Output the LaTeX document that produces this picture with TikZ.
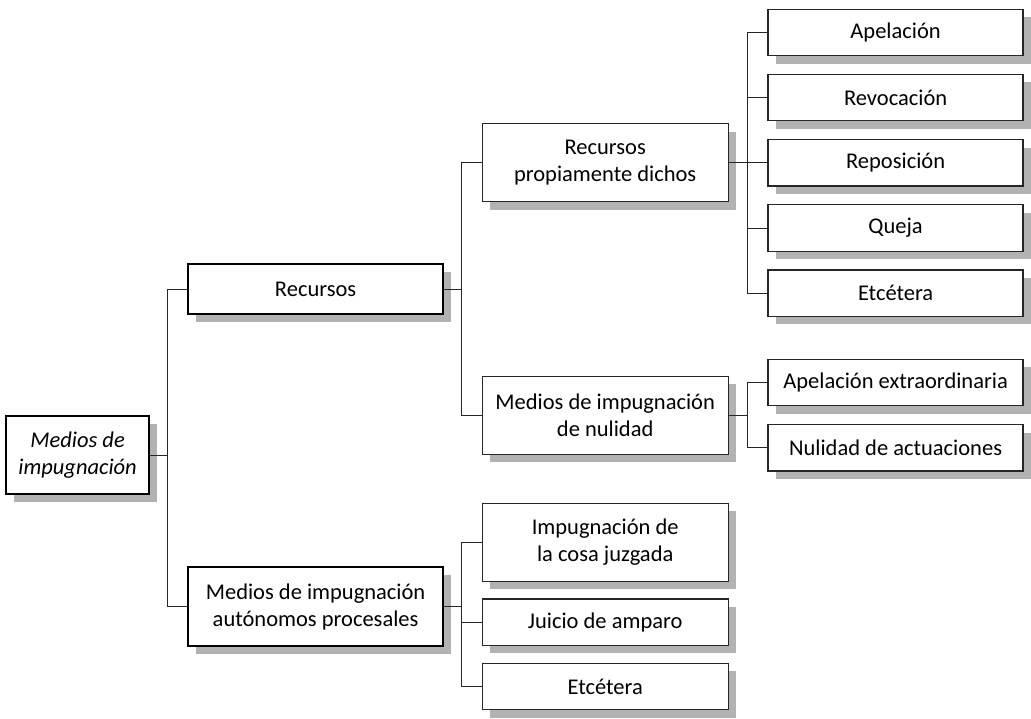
\documentclass[tikz,border=0pt]{standalone}
\usepackage{fontspec}
\setmainfont{Carlito}
\usetikzlibrary{trees,shadows}

\begin{document}
\begin{tikzpicture}[
        grow'=right,
        font=\fontsize{16}{19.2}\selectfont,
        minimum height=1.16cm,
        level 1/.style={level distance=5.95cm, sibling distance=7.94cm,
            minimum width=6.375cm, minimum height=1.25cm},
        level 2/.style={level distance=7.24cm, minimum width=6.15cm, minimum height=1.16cm},
        level 3/.style={level distance=7.26cm, sibling distance=1.63cm, minimum width=6.375cm},
        every node/.style={draw, rectangle, fill=white, line width=0.9pt, align=center, inner sep=0pt,
            drop shadow={shadow xshift=0.2cm, shadow yshift=-0.2cm, fill=black!30, opacity=1}},
        tall/.style={minimum height=1.95cm},
        edge from parent/.style={draw, line width=0.7pt, black!85},
        edge from parent path={(\tikzparentnode.east) -| ([xshift=-0.49cm]\tikzchildnode.west) -- (\tikzchildnode.west)}
    ]
    \useasboundingbox (0,0) rectangle (25.775,-17.95);
    \node (root) at (1.94,-11.375) [tall, minimum width=3.575cm, font=\fontsize{16}{19.2}\selectfont\itshape] {Medios de\\impugnación}
        child [yshift=0.18cm] {
            node (recursos) {Recursos}
            child [sibling distance=6.31cm] {
                node (propios) [tall] {Recursos\\propiamente dichos}
                child { node (apelacion) {Apelación} }
                child { node (revocacion) {Revocación} }
                child { node (reposicion) {Reposición} }
                child { node (queja) {Queja} }
                child { node (etcA) {Etcétera} }
            }
            child [sibling distance=6.31cm] {
                node (nulidad) [tall] {Medios de impugnación\\de nulidad}
                child { node (apelext) {Apelación extraordinaria} }
                child { node (actuaciones) {Nulidad de actuaciones} }
            }
        }
        child [yshift=0.18cm] {
            node (autonomos) [minimum height=1.975cm] {Medios de impugnación\\autónomos procesales}
            child [sibling distance=1.81cm, yshift=-0.2cm] {
                node (cosajuzgada) [tall] {Impugnación de\\la cosa juzgada}
            }
            child [sibling distance=1.81cm, yshift=-0.39cm] {
                node (amparo) {Juicio de amparo}
            }
            child [sibling distance=1.81cm, yshift=-0.19cm] {
                node (etcB) {Etcétera}
            }
        };
    \end{tikzpicture}
\end{document}
